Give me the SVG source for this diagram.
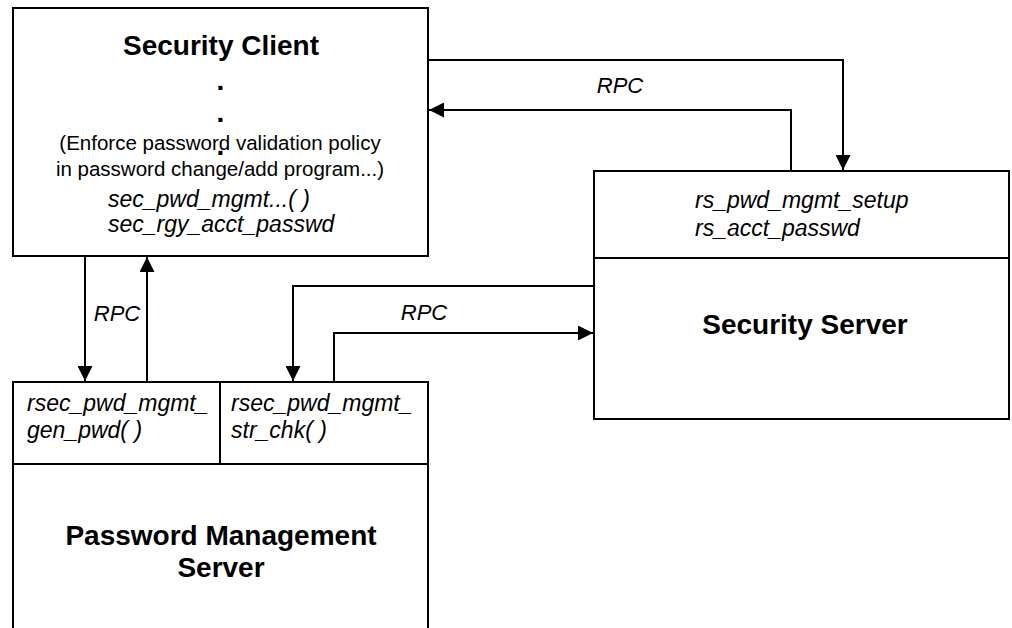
<svg xmlns="http://www.w3.org/2000/svg" width="1012" height="628" viewBox="0 0 1012 628">
<style>
.box{fill:#fff;stroke:#000;stroke-width:2}
.ln{fill:none;stroke:#000;stroke-width:2}
.title{font-family:"Liberation Sans",Arial,sans-serif;font-weight:bold;font-size:28px;fill:#000}
.reg{font-family:"Liberation Sans",Arial,sans-serif;font-size:20.5px;fill:#000}
.it{font-family:"Liberation Sans",Arial,sans-serif;font-style:italic;font-size:23px;fill:#000}
.rpc{font-family:"Liberation Sans",Arial,sans-serif;font-style:italic;font-size:22px;fill:#000}
</style>
<defs>
<marker id="arr" markerUnits="userSpaceOnUse" markerWidth="16" markerHeight="15" refX="15" refY="7.5" orient="auto">
<path d="M0,0 L15,7.5 L0,15 z" fill="#000"/>
</marker>
</defs>
<rect width="1012" height="628" fill="#fff"/>
<g id="security-client">
<rect class="box" x="13" y="8" width="415" height="248"/>
<text class="title" x="221" y="55" text-anchor="middle">Security Client</text>
<text class="reg" x="220" y="150" text-anchor="middle">(Enforce password validation policy</text>
<text class="reg" x="220" y="176" text-anchor="middle">in password change/add program...)</text>
<text class="title" x="220.5" y="90" text-anchor="middle">.</text>
<text class="title" x="220.5" y="122" text-anchor="middle">.</text>
<text class="title" x="220.5" y="155" text-anchor="middle">.</text>
<text class="it" x="108" y="207">sec_pwd_mgmt...( )</text>
<text class="it" x="108" y="232">sec_rgy_acct_passwd</text>
</g>
<g id="security-server">
<rect class="box" x="594" y="171" width="415" height="248"/>
<line class="ln" x1="594" y1="258" x2="1009" y2="258"/>
<text class="it" x="695" y="208">rs_pwd_mgmt_setup</text>
<text class="it" x="695" y="236">rs_acct_passwd</text>
<text class="title" x="805" y="334" text-anchor="middle">Security Server</text>
</g>
<g id="password-management-server">
<rect class="box" x="13" y="382" width="415" height="260"/>
<line class="ln" x1="13" y1="464" x2="428" y2="464"/>
<line class="ln" x1="220" y1="382" x2="220" y2="464"/>
<text class="it" x="27" y="411">rsec_pwd_mgmt_</text>
<text class="it" x="27" y="438">gen_pwd( )</text>
<text class="it" x="231" y="411">rsec_pwd_mgmt_</text>
<text class="it" x="231" y="438">str_chk( )</text>
<text class="title" x="221" y="545" text-anchor="middle">Password Management</text>
<text class="title" x="221" y="577" text-anchor="middle">Server</text>
</g>
<g id="connectors">
<polyline class="ln" points="428,60 843,60 843,170" marker-end="url(#arr)"/>
<polyline class="ln" points="791,171 791,110 429,110" marker-end="url(#arr)"/>
<polyline class="ln" points="85,256 85,381" marker-end="url(#arr)"/>
<polyline class="ln" points="147,382 147,257" marker-end="url(#arr)"/>
<polyline class="ln" points="594,286 293,286 293,381" marker-end="url(#arr)"/>
<polyline class="ln" points="334,382 334,333 593,333" marker-end="url(#arr)"/>
<text class="rpc" x="620" y="93" text-anchor="middle">RPC</text>
<text class="rpc" x="117" y="321" text-anchor="middle">RPC</text>
<text class="rpc" x="424" y="320" text-anchor="middle">RPC</text>
</g>
</svg>
